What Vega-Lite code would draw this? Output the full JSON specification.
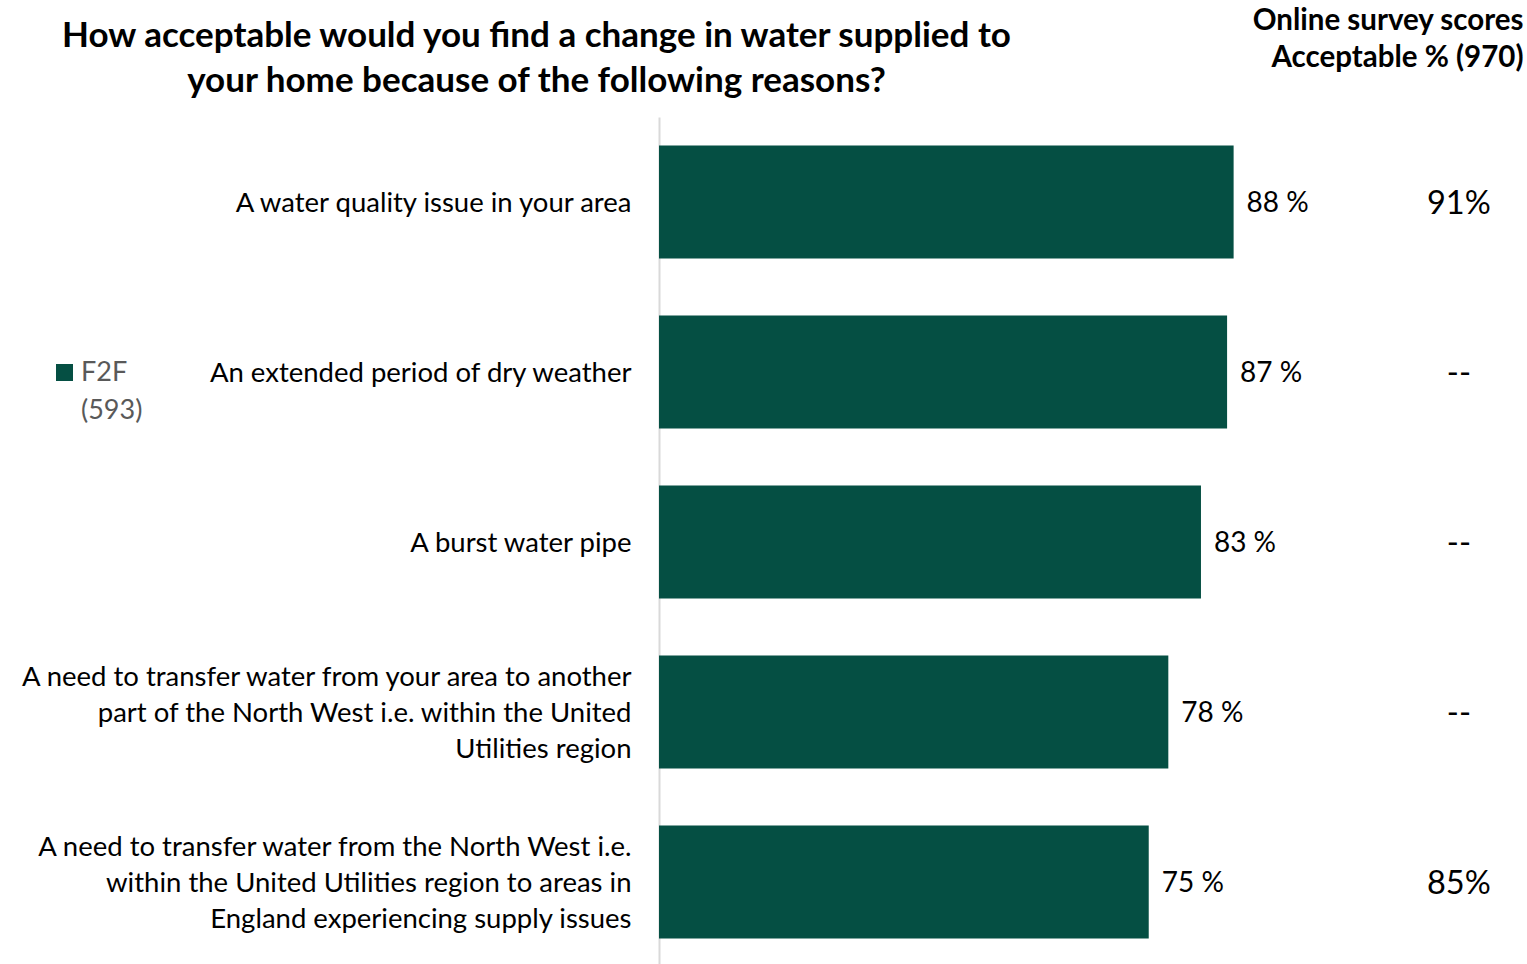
{
  "$schema": "https://vega.github.io/schema/vega-lite/v6.json",
  "autosize": {"type": "none"},
  "padding": {"left": 659, "top": 117, "right": 0, "bottom": 0},
  "width": 868,
  "height": 850,
  "background": "white",
  "config": {
    "font": "Lato",
    "view": {"stroke": null}
  },
  "data": {
    "values": [
      {"reason": "A water quality issue in your area", "f2f": 88, "online": "91%", "series": "F2F"},
      {"reason": "An extended period of dry weather", "f2f": 87, "online": "--", "series": "F2F"},
      {"reason": "A burst water pipe", "f2f": 83, "online": "--", "series": "F2F"},
      {"reason": "A need to transfer water from your area to another|part of the North West i.e. within the United|Utilities region", "f2f": 78, "online": "--", "series": "F2F"},
      {"reason": "A need to transfer water from the North West i.e.|within the United Utilities region to areas in|England experiencing supply issues", "f2f": 75, "online": "85%", "series": "F2F"}
    ]
  },
  "transform": [
    {"calculate": "datum.f2f + ' %'", "as": "f2f_label"}
  ],
  "encoding": {
    "y": {
      "field": "reason",
      "type": "nominal",
      "sort": null,
      "scale": {"paddingInner": 0.335, "paddingOuter": 0.1675},
      "axis": {
        "title": ["How acceptable would you find a change in water supplied to", "your home because of the following reasons?"],
        "titleFont": "Lato",
        "titleFontSize": 35,
        "titleFontWeight": "bold",
        "titleColor": "#000000",
        "titleAngle": 0,
        "titleAlign": "center",
        "titleBaseline": "top",
        "titleLineHeight": 45,
        "titleX": -123,
        "titleY": -99,
        "labelExpr": "split(datum.label, '|')",
        "labelFontSize": 27.5,
        "labelLineHeight": 36,
        "labelColor": "#000000",
        "labelPadding": 28,
        "labelLimit": 0,
        "labelOffset": {"expr": "(length(split(datum.label, '|')) - 1) * -18 + 2"},
        "ticks": false,
        "domain": true,
        "domainColor": "#d9d9d9",
        "domainWidth": 2
      }
    }
  },
  "layer": [
    {
      "mark": {"type": "bar", "color": "#054F43"},
      "encoding": {
        "x": {
          "field": "f2f",
          "type": "quantitative",
          "scale": {"domain": [0, 132.93], "nice": false},
          "axis": {
            "orient": "top",
            "labels": false,
            "ticks": false,
            "domain": false,
            "grid": false,
            "title": ["Online survey scores", "Acceptable % (970)"],
            "titleFont": "Lato",
            "titleFontSize": 29.5,
            "titleFontWeight": "bold",
            "titleColor": "#000000",
            "titleAlign": "right",
            "titleAnchor": "end",
            "titleBaseline": "top",
            "titleLineHeight": 37,
            "titleX": 864,
            "titleY": -111
          }
        },
        "color": {
          "field": "series",
          "type": "nominal",
          "scale": {"range": ["#054F43"]},
          "legend": {
            "title": null,
            "orient": "none",
            "legendX": -608,
            "legendY": 242,
            "symbolType": "square",
            "symbolSize": 289,
            "symbolStrokeWidth": 0,
            "labelExpr": "[datum.label, '(593)']",
            "labelFontSize": 27,
            "labelColor": "#595959",
            "labelOffset": 3,
            "labelBaseline": "middle",
            "encode": {"labels": {"update": {"lineHeight": {"value": 38}}}}
          }
        }
      }
    },
    {
      "mark": {"type": "text", "align": "left", "baseline": "middle", "dx": 13, "dy": 2, "fontSize": 28, "color": "#000000"},
      "encoding": {
        "x": {"field": "f2f", "type": "quantitative"},
        "text": {"field": "f2f_label"}
      }
    },
    {
      "mark": {"type": "text", "align": "center", "baseline": "middle", "dy": 2, "fontSize": 32.5, "color": "#000000"},
      "encoding": {
        "x": {"datum": 122.5, "type": "quantitative"},
        "text": {"field": "online"}
      }
    }
  ]
}
